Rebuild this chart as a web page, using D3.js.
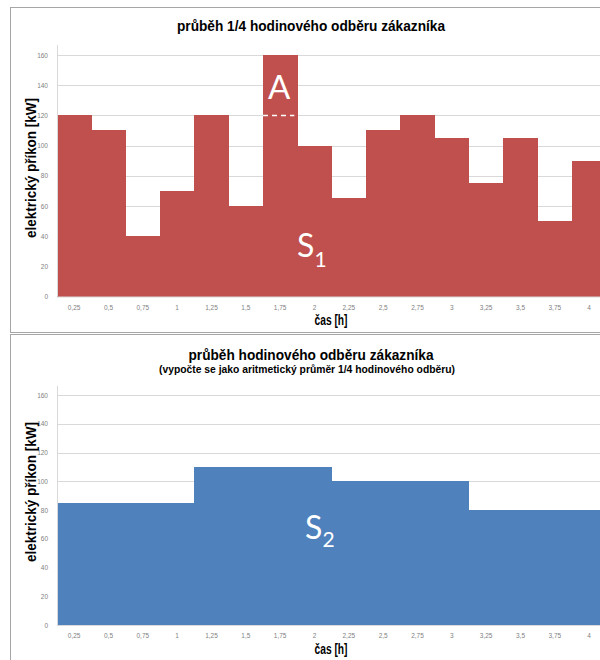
<!DOCTYPE html>
<html><head><meta charset="utf-8">
<script src="https://cdn.jsdelivr.net/npm/d3@7"></script>
<style>body{margin:0;background:#fff}svg{display:block}</style>
</head><body>
<script>
const categories = ["0,25","0,5","0,75","1","1,25","1,5","1,75","2","2,25","2,5","2,75","3","3,25","3,5","3,75","4"];
const quarterValues = [120,110,40,70,120,60,160,100,65,110,120,105,75,105,50,90];
const hourValues = [85,85,85,85,110,110,110,110,100,100,100,100,80,80,80,80];
const yTicks = [0,20,40,60,80,100,120,140,160];

const svg = d3.select("body").append("svg").attr("width",600).attr("height",660);
const titleFont = "'Liberation Sans',Arial,sans-serif";

svg.append("rect").attr("x",10.5).attr("y",7.5).attr("width",640).attr("height",325).attr("fill","none").attr("stroke","#a6a6a6").attr("stroke-width",1);
svg.append("rect").attr("x",10.5).attr("y",334.5).attr("width",640).attr("height",340).attr("fill","none").attr("stroke","#a6a6a6").attr("stroke-width",1);

function condensed(sel, len){ return sel.attr("textLength",len).attr("lengthAdjust","spacingAndGlyphs"); }

function panel(cfg){
  const x = d3.scaleBand().domain(categories).range([57,606.3]).padding(0);
  const y = d3.scaleLinear().domain([0,160]).range([cfg.y0,cfg.y160]);
  const g = svg.append("g");
  g.selectAll("line.grid").data(yTicks.filter(d=>d>0)).join("line")
    .attr("x1",57).attr("x2",606).attr("y1",d=>Math.round(y(d))+0.5).attr("y2",d=>Math.round(y(d))+0.5)
    .attr("stroke","#d9d9d9").attr("stroke-width",1);
  g.selectAll("rect.bar").data(cfg.values).join("rect")
    .attr("shape-rendering","crispEdges")
    .attr("x",(d,i)=>x(categories[i])).attr("width",x.bandwidth()+0.5)
    .attr("y",d=>y(d)).attr("height",d=>y(0)-y(d)).attr("fill",cfg.color);
  g.append("line").attr("x1",57.5).attr("x2",57.5).attr("y1",cfg.top).attr("y2",y(0)).attr("stroke","#d9d9d9");
  g.append("line").attr("x1",57).attr("x2",606).attr("y1",y(0)+0.5).attr("y2",y(0)+0.5).attr("stroke","#d9d9d9");
  const ya = d3.axisLeft(y).tickValues(yTicks).tickSize(0).tickPadding(0);
  const yg = g.append("g").attr("transform","translate(48,0)").call(ya);
  yg.select(".domain").remove();
  yg.selectAll("text").attr("font-family","'Liberation Sans',Arial,sans-serif").attr("font-size",6.5).attr("fill","#7f7f7f");
  const xa = d3.axisBottom(x).tickSize(0).tickPadding(0);
  const xg = g.append("g").attr("transform",`translate(0,${y(0)+8.5})`).call(xa);
  xg.select(".domain").remove();
  xg.selectAll("text").attr("font-family","'Liberation Sans',Arial,sans-serif").attr("font-size",6.5).attr("fill","#7f7f7f");
  condensed(g.append("text").attr("transform",`translate(36,${cfg.ylabelY}) rotate(-90)`).attr("text-anchor","middle")
    .attr("font-family",titleFont).attr("font-weight","bold").attr("font-size",15.5).attr("fill","#000").text("elektrický příkon [kW]"),140);
  condensed(g.append("text").attr("x",331).attr("y",y(0)+28.5).attr("text-anchor","middle")
    .attr("font-family",titleFont).attr("font-weight","bold").attr("font-size",14).attr("fill","#000").text("čas [h]"),33);
  return {x,y,g};
}

const p1 = panel({values:quarterValues,color:"#C0504D",y0:296.5,y160:55,top:45,ylabelY:168});
const p2 = panel({values:hourValues,color:"#4F81BD",y0:625,y160:395,top:386,ylabelY:492});

condensed(svg.append("text").attr("x",311).attr("y",31).attr("text-anchor","middle").attr("font-family",titleFont)
  .attr("font-weight","bold").attr("font-size",15.5).text("průběh 1/4 hodinového odběru zákazníka"),268);
condensed(svg.append("text").attr("x",311).attr("y",360).attr("text-anchor","middle").attr("font-family",titleFont)
  .attr("font-weight","bold").attr("font-size",15.5).text("průběh hodinového odběru zákazníka"),245);
condensed(svg.append("text").attr("x",307).attr("y",373).attr("text-anchor","middle").attr("font-family",titleFont)
  .attr("font-weight","bold").attr("font-size",10).text("(vypočte se jako aritmetický průměr 1/4 hodinového odběru)"),296);

const ax = p1.x("1,75"), bw = p1.x.bandwidth();
p1.g.append("line").attr("x1",ax).attr("x2",ax+bw-3).attr("y1",p1.y(120)).attr("y2",p1.y(120))
  .attr("stroke","#fff").attr("stroke-width",1.5).attr("stroke-dasharray","5,4");
p1.g.append("text").attr("x",ax+bw/2-1).attr("y",99).attr("text-anchor","middle").attr("font-family","Lato,'Open Sans',sans-serif")
  .attr("font-size",33).attr("fill","#fff").text("A");

function sLabel(x,yb,sub,dy){
  const t = svg.append("text").attr("x",x).attr("y",yb).attr("font-family","Lato,'Open Sans',sans-serif").attr("fill","#fff").attr("font-size",32);
  t.append("tspan").text("S");
  t.append("tspan").attr("font-size",21).attr("dy",dy).text(sub);
}
sLabel(297,257,"1",10);
sLabel(305,539,"2",8);
</script>
</body></html>
